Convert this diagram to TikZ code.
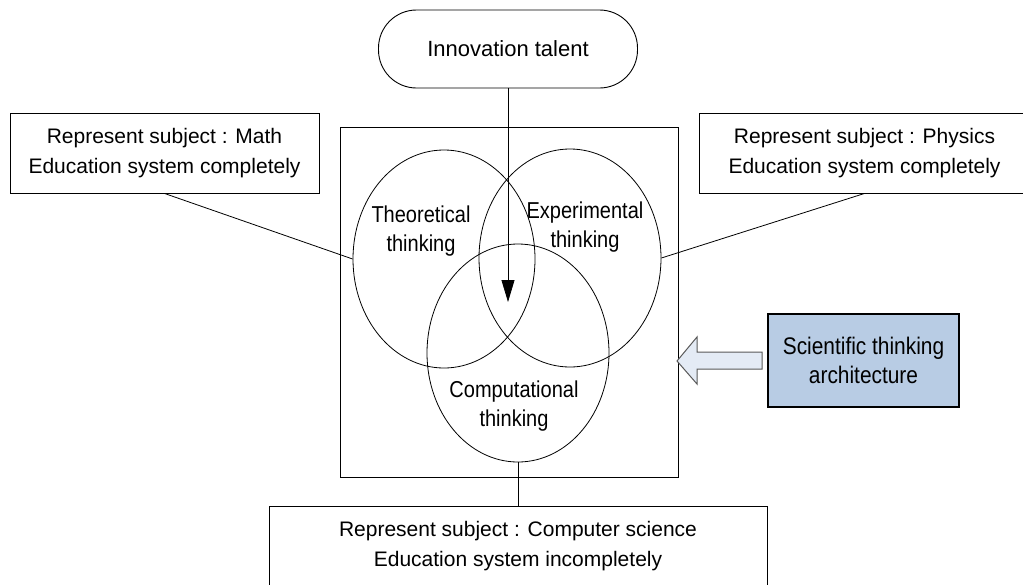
\documentclass[tikz,border=0pt]{standalone}
\usepackage{fontspec}
\setmainfont{Liberation Sans}
\newfontfamily\thinkfont[FakeStretch=0.87]{Liberation Sans}
\usetikzlibrary{shapes.geometric,arrows.meta}
\definecolor{archblue}{HTML}{B8CCE4}
\definecolor{arrowblue}{HTML}{E4EBF5}

\begin{document}
\begin{tikzpicture}[x=1pt,y=-1pt,
    subjectbox/.style={draw,line width=0.9pt,minimum height=80pt,align=center,inner sep=0pt,font=\fontsize{21}{30}\selectfont},
    think/.style={draw,ellipse,line width=0.8pt,minimum width=182pt,minimum height=218pt,inner sep=0pt},
    thinklabel/.style={align=center,inner sep=0pt,font=\thinkfont\fontsize{23}{29}\selectfont}]
    \useasboundingbox (0,0) rectangle (1023,584);
    \clip (0,0) rectangle (1023,584);

    % frame round the three kinds of thinking
    \draw[line width=0.9pt] (340,127) rectangle (678,477);

    \node[think] (theo) at (444,259) {};
    \node[think] (expe) at (570,258) {};
    \node[think] (comp) at (518,353) {};
    \node[thinklabel] (theotxt) at (421,231) {Theoretical\\thinking};
    \node[thinklabel] (expetxt) at (585,227) {Experimental\\thinking};
    \node[thinklabel] (comptxt) at (514,406) {Computational\\thinking};

    % goal on top
    \node[draw,line width=0.9pt,rounded corners=38pt,minimum width=259pt,minimum height=78pt,
        font=\fontsize{22}{26}\selectfont] (talent) at (508,49) {Innovation talent};
    \coordinate (tip) at (508,302);
    \draw[line width=0.8pt,-{Triangle[length=22pt,width=13pt]}] (talent.south) -- (tip);

    % subjects
    \node[subjectbox,minimum width=309pt] (mathbox) at (164.5,153)
        {Represent subject : Math\\Education system completely};
    \node[subjectbox,minimum width=331pt] (physbox) at (864.5,153)
        {Represent subject : Physics\\Education system completely};
    \node[subjectbox,minimum width=498pt] (csbox) at (518,546)
        {Represent subject : Computer science\\Education system incompletely};
    \draw[line width=0.8pt] (mathbox.south) -- (theo.west);
    \draw[line width=0.8pt] (physbox.south) -- (expe.east);
    \draw[line width=0.8pt] (comp.south) -- (csbox.north);

    % architecture
    \node[draw,fill=archblue,line width=1.2pt,minimum width=191pt,minimum height=93pt,align=center,
        font=\thinkfont\fontsize{24}{29}\selectfont] (arch) at (863.5,360.5)
        {Scientific thinking\\architecture};
    \draw[fill=arrowblue,draw=black!65,line width=1pt]
        (762,352) -- (697,352) -- (697,337) -- (677,361) -- (697,384) -- (697,369) -- (762,369) -- cycle;
\end{tikzpicture}
\end{document}
